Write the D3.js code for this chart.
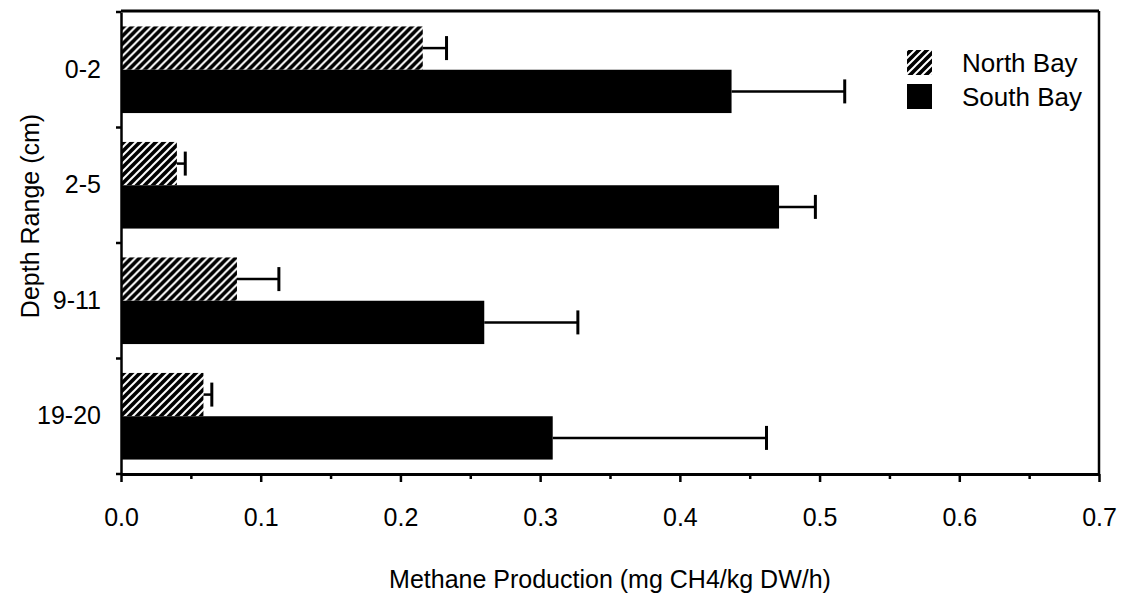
<!DOCTYPE html>
<html>
<head>
<meta charset="utf-8">
<script src="https://cdn.jsdelivr.net/npm/d3@7"></script>
<style>
  html, body { margin: 0; padding: 0; background: #fff; }
  svg { display: block; font-family: "Liberation Sans", Arial, Helvetica, sans-serif; }
</style>
</head>
<body>
<svg id="chart" width="1125" height="594"></svg>
<script>
// ---- data ----
const categories = ["0-2", "2-5", "9-11", "19-20"];
const seriesNames = ["North Bay", "South Bay"];
const northValues = [0.216, 0.040, 0.083, 0.059];
const northErrors = [0.017, 0.006, 0.030, 0.006];
const southValues = [0.437, 0.471, 0.260, 0.309];
const southErrors = [0.081, 0.026, 0.067, 0.153];
const xTicks = [0.0, 0.1, 0.2, 0.3, 0.4, 0.5, 0.6, 0.7];
const xMinorTicks = [0.05, 0.15, 0.25, 0.35, 0.45, 0.55, 0.65];
const xTitle = "Methane Production (mg CH4/kg DW/h)";
const yTitle = "Depth Range (cm)";

const svg = d3.select("#chart");
const mLeft = 121, mRight = 1099, mTop = 12, mBottom = 474;
const FS = 25;

const x = d3.scaleLinear().domain([0, 0.7]).range([mLeft, mRight]);
const y0 = d3.scaleBand().domain(categories).range([mTop, mBottom])
  .paddingInner(0.25).paddingOuter(0.125);
const y1 = d3.scaleBand().domain(seriesNames).range([0, y0.bandwidth()]);

// hatch pattern
const defs = svg.append("defs");
const pat = defs.append("pattern").attr("id", "hatch")
  .attr("patternUnits", "userSpaceOnUse").attr("width", 8).attr("height", 8);
pat.append("rect").attr("width", 8).attr("height", 8).attr("fill", "#000");
pat.append("path").attr("d", "M0,8 L8,0 M-2,2 L2,-2 M6,10 L10,6")
  .attr("stroke", "#fff").attr("stroke-width", 2);

const fills = { "North Bay": "url(#hatch)", "South Bay": "#000" };

const rows = categories.map((c, i) => ({
  cat: c,
  items: [
    { s: "North Bay", v: northValues[i], e: northErrors[i] },
    { s: "South Bay", v: southValues[i], e: southErrors[i] }
  ]
}));

const g = svg.append("g");
const groups = g.selectAll("g.cat").data(rows).join("g")
  .attr("transform", d => `translate(0,${y0(d.cat)})`);

// error bars
groups.selectAll("line.err").data(d => d.items).join("line")
  .attr("class", "err")
  .attr("x1", d => x(d.v)).attr("x2", d => x(d.v + d.e))
  .attr("y1", d => y1(d.s) + y1.bandwidth() / 2)
  .attr("y2", d => y1(d.s) + y1.bandwidth() / 2)
  .attr("stroke", "#000").attr("stroke-width", 2.5);
groups.selectAll("line.cap").data(d => d.items).join("line")
  .attr("class", "cap")
  .attr("x1", d => x(d.v + d.e)).attr("x2", d => x(d.v + d.e))
  .attr("y1", d => y1(d.s) + y1.bandwidth() / 2 - 12)
  .attr("y2", d => y1(d.s) + y1.bandwidth() / 2 + 12)
  .attr("stroke", "#000").attr("stroke-width", 3);

// bars
groups.selectAll("rect").data(d => d.items).join("rect")
  .attr("x", x(0)).attr("y", d => y1(d.s))
  .attr("width", d => x(d.v) - x(0)).attr("height", y1.bandwidth())
  .attr("fill", d => fills[d.s]);

// frame top & right
svg.append("line").attr("x1", mLeft).attr("x2", mRight).attr("y1", mTop - 1).attr("y2", mTop - 1)
  .attr("stroke", "#000").attr("stroke-width", 3);
svg.append("line").attr("x1", mRight).attr("x2", mRight).attr("y1", mTop - 1).attr("y2", mBottom)
  .attr("stroke", "#000").attr("stroke-width", 2.5);

// x axis
const xAxis = svg.append("g").attr("transform", `translate(0,${mBottom})`)
  .call(d3.axisBottom(x).tickValues(xTicks).tickFormat(d3.format(".1f")).tickSize(8).tickSizeOuter(0).tickPadding(26));
xAxis.select(".domain").attr("stroke-width", 3);
xAxis.selectAll(".tick line").attr("stroke-width", 2.5);
xAxis.selectAll("text").attr("font-size", FS).attr("fill", "#000")
  .attr("font-family", "Liberation Sans, Arial, sans-serif");
svg.append("g").attr("transform", `translate(0,${mBottom})`)
  .call(d3.axisBottom(x).tickValues(xMinorTicks).tickFormat("").tickSize(5).tickSizeOuter(0))
  .call(a => a.select(".domain").remove())
  .selectAll(".tick line").attr("stroke-width", 2.5);

// y axis
const yAxis = svg.append("g").attr("transform", `translate(${mLeft},0)`)
  .call(d3.axisLeft(y0).tickSize(0).tickPadding(20));
yAxis.select(".domain").attr("stroke-width", 2.5);
yAxis.selectAll("text").attr("font-size", FS).attr("fill", "#000")
  .attr("font-family", "Liberation Sans, Arial, sans-serif");
// y boundary ticks
const boundaries = categories.map(c => y0(c) - y0.step() * y0.paddingInner() / 2)
  .concat([mBottom]);
svg.append("g").selectAll("line").data(boundaries).join("line")
  .attr("x1", mLeft - 5).attr("x2", mLeft).attr("y1", d => d).attr("y2", d => d)
  .attr("stroke", "#000").attr("stroke-width", 2.5);

// titles
svg.append("text").attr("x", 610).attr("y", 588)
  .attr("text-anchor", "middle").attr("font-size", FS).attr("fill", "#000")
  .text(xTitle);
svg.append("text").attr("transform", `translate(39,216) rotate(-90)`)
  .attr("text-anchor", "middle").attr("font-size", FS).attr("fill", "#000")
  .text(yTitle);

// legend
const legend = svg.append("g").attr("transform", "translate(907,50)");
seriesNames.forEach((s, i) => {
  const lg = legend.append("g").attr("transform", `translate(0,${i * 34})`);
  lg.append("rect").attr("width", 25).attr("height", 25).attr("fill", fills[s]);
  lg.append("text").attr("x", 55).attr("y", 22).attr("font-size", 26)
    .attr("fill", "#000").text(s);
});
</script>
</body>
</html>
